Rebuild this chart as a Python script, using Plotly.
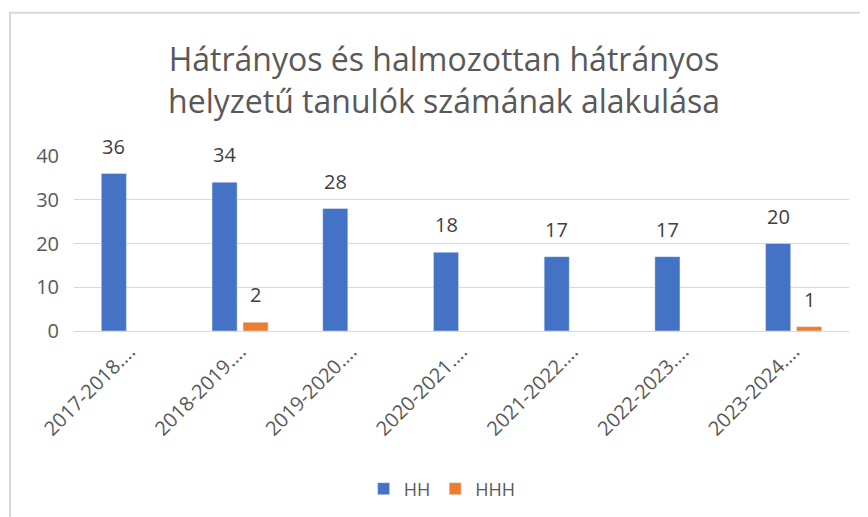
import plotly.graph_objs as go

categories = ['2017-2018….', '2018-2019….', '2019-2020….', '2020-2021….',
              '2021-2022….', '2022-2023….', '2023-2024….']
hh_values = [36, 34, 28, 18, 17, 17, 20]
hhh_values = [None, 2, None, None, None, None, 1]
title_text = 'Hátrányos és halmozottan hátrányos<br>helyzetű tanulók számának alakulása'

font_family = "Open Sans, sans-serif"
text_color = '#595959'

fig = go.Figure()
fig.add_trace(go.Bar(x=categories, y=hh_values, name='HH', marker=dict(color='#4472C4')))
fig.add_trace(go.Bar(x=categories, y=hhh_values, name='HHH', marker=dict(color='#ED7D31')))

# data labels sit a bit higher above the bars than plotly's own outside text
labels = []
for values, shift in [(hh_values, -15.5), (hhh_values, 15.5)]:
    for cat, v in zip(categories, values):
        if v is None:
            continue
        labels.append(dict(x=cat, y=v, text=str(v), showarrow=False,
                           xanchor='center', yanchor='bottom', xshift=shift, yshift=12,
                           font=dict(size=20, color='#404040', family=font_family)))

# the page body adds an 8px margin, so the figure is 8px smaller each way
fig.update_layout(
    width=860, height=509,
    barmode='group', bargap=0.44, bargroupgap=0.19,
    plot_bgcolor='white', paper_bgcolor='white',
    margin=dict(l=66, r=19, t=148, b=185),
    font=dict(family=font_family, size=18, color=text_color),
    title=dict(text=title_text, x=0.507, xanchor='center', yref='container',
               y=1 - 63 / 509, yanchor='top',
               font=dict(size=32, color=text_color, family=font_family)),
    xaxis=dict(tickangle=-45, tickfont=dict(size=20, color=text_color),
               showline=True, linecolor='#d9d9d9', linewidth=1, ticks='',
               ticklabelstandoff=0, automargin=False),
    yaxis=dict(range=[0, 40], dtick=10, showgrid=True, gridcolor='#d9d9d9',
               zeroline=False, tickfont=dict(size=20, color=text_color),
               ticklabelstandoff=14, automargin=False),
    legend=dict(orientation='h', x=0.475, xanchor='center', y=-0.892, yanchor='middle',
                font=dict(size=18, color=text_color), itemwidth=30),
    annotations=labels,
    shapes=[dict(type='rect', xref='paper', yref='paper', x0=-0.0826, x1=1.2,
                 y0=-1.5, y1=1.818, line=dict(color='#d9d9d9', width=2))]
)

fig.write_html("out.html")
